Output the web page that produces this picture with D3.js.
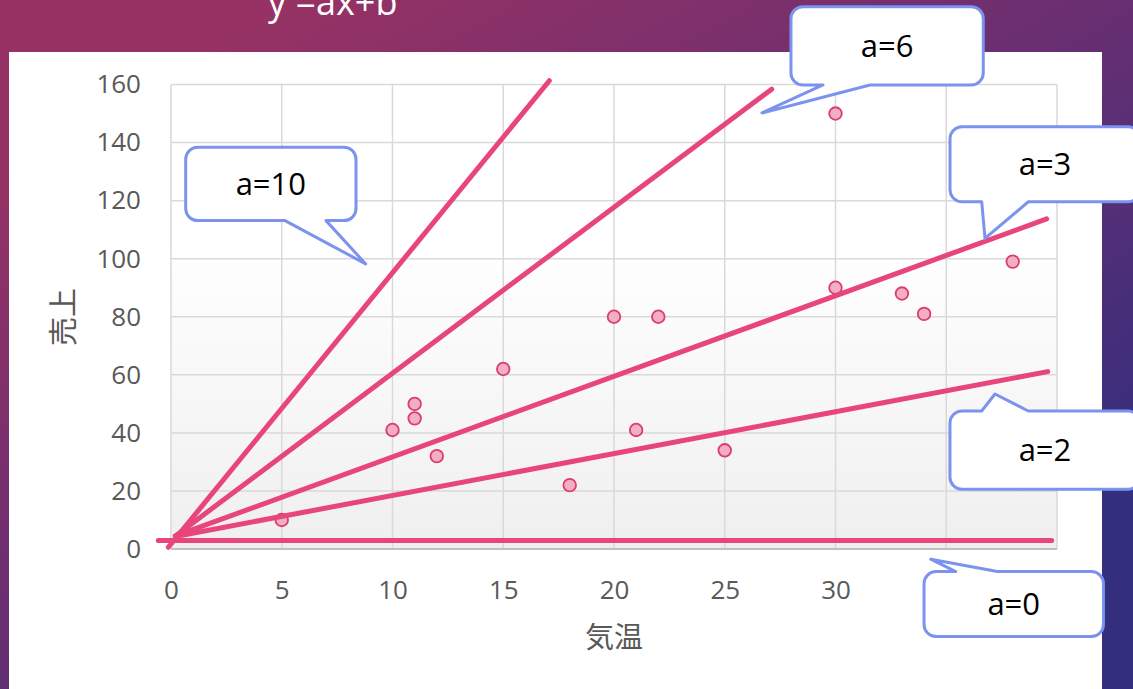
<!DOCTYPE html>
<html>
<head>
<meta charset="utf-8">
<script src="https://cdn.jsdelivr.net/npm/d3@7/dist/d3.min.js"></script>
<style>
  html, body { margin: 0; padding: 0; overflow: hidden; }
  svg { display: block; }
</style>
</head>
<body>
<script>
// Temperature (気温) vs sales (売上) observations
const temps = [5, 10, 11, 11, 12, 15, 18, 20, 21, 22, 25, 30, 30, 33, 34, 38];
const sales = [10, 41, 50, 45, 32, 62, 22, 80, 41, 80, 34, 150, 90, 88, 81, 99];

// Trial lines y = ax + b, given by their start and end points
const lineNames = ["a=10", "a=6", "a=3", "a=2", "a=0"];
const lineX0 = [-0.12, 0.2, 0.2, 0.2, -0.57];
const lineY0 = [0.6, 4.5, 4.5, 4.3, 2.9];
const lineX1 = [17.08, 27.12, 39.53, 39.58, 39.76];
const lineY1 = [161.3, 158.4, 113.7, 61.1, 2.9];

// Where each callout points, in data units
const tipX = [8.79, 26.68, 36.75, 37.2, 34.3];
const tipY = [98.2, 150.2, 107, 53.4, -3.5];

// Axis ticks
const xTicks = [0, 5, 10, 15, 20, 25, 30, 35, 40];
const yTicks = [0, 20, 40, 60, 80, 100, 120, 140, 160];

const W = 1133, H = 689;
const svg = d3.select("body").append("svg").attr("width", W).attr("height", H);
const defs = svg.append("defs");

// slide background
const bg = defs.append("linearGradient").attr("id", "bg")
  .attr("gradientUnits", "userSpaceOnUse")
  .attr("x1", 300).attr("y1", 0).attr("x2", 700).attr("y2", 720);
bg.append("stop").attr("offset", "0%").attr("stop-color", "#963264");
bg.append("stop").attr("offset", "40%").attr("stop-color", "#712f6f");
bg.append("stop").attr("offset", "100%").attr("stop-color", "#342e7e");
svg.append("rect").attr("width", W).attr("height", H).attr("fill", "url(#bg)");

// title
svg.append("text").attr("x", 268).attr("y", 15)
  .attr("font-family", "'Open Sans', sans-serif").attr("font-size", 36)
  .attr("fill", "#ffffff").text("y =ax+b");

// chart card
svg.append("rect").attr("x", 9).attr("y", 52).attr("width", 1093).attr("height", 700)
  .attr("fill", "#ffffff");

const x = d3.scaleLinear().domain([0, 40]).range([171, 1057]);
const y = d3.scaleLinear().domain([0, 160]).range([549, 84.5]);

const pg = defs.append("linearGradient").attr("id", "plotbg")
  .attr("x1", "0").attr("y1", "0").attr("x2", "0").attr("y2", "1");
pg.append("stop").attr("offset", "0%").attr("stop-color", "#ffffff");
pg.append("stop").attr("offset", "35%").attr("stop-color", "#ffffff");
pg.append("stop").attr("offset", "100%").attr("stop-color", "#efefef");
svg.append("rect").attr("x", x(0)).attr("y", y(160))
  .attr("width", x(40) - x(0)).attr("height", y(0) - y(160)).attr("fill", "url(#plotbg)");

// grid
const grid = svg.append("g");
grid.selectAll(".gx").data(xTicks).join("line")
  .attr("x1", d => x(d)).attr("x2", d => x(d)).attr("y1", y(160)).attr("y2", y(0))
  .attr("stroke", "#d9d9d9").attr("stroke-width", 1.5);
grid.selectAll(".gy").data(yTicks).join("line")
  .attr("x1", x(0)).attr("x2", x(40)).attr("y1", d => y(d)).attr("y2", d => y(d))
  .attr("stroke", "#d9d9d9").attr("stroke-width", 1.5);
svg.append("line").attr("x1", x(0)).attr("x2", x(40)).attr("y1", y(0)).attr("y2", y(0))
  .attr("stroke", "#bfbfbf").attr("stroke-width", 2);

// axes
const font = "'Open Sans', sans-serif";
const xAxis = svg.append("g").attr("transform", `translate(0,${y(0)})`)
  .call(d3.axisBottom(x).tickValues(xTicks).tickSize(0).tickPadding(30).tickFormat(d3.format("d")));
const yAxis = svg.append("g").attr("transform", `translate(${x(0)},0)`)
  .call(d3.axisLeft(y).tickValues(yTicks).tickSize(0).tickPadding(30).tickFormat(d3.format("d")));
[xAxis, yAxis].forEach(g => {
  g.select(".domain").remove();
  g.selectAll("text").attr("font-family", font).attr("font-size", 26).attr("fill", "#595959");
});
xAxis.selectAll("text").attr("dy", "0.35em").attr("y", 41);

const cjk = "'Noto Sans CJK JP', sans-serif";
svg.append("text").attr("x", 614).attr("y", 638).attr("dy", "0.35em")
  .attr("text-anchor", "middle").attr("font-family", cjk).attr("font-size", 29)
  .attr("fill", "#595959").text("気温");
svg.append("text").attr("transform", "translate(64,317) rotate(-90)").attr("dy", "0.35em")
  .attr("text-anchor", "middle").attr("font-family", cjk).attr("font-size", 29)
  .attr("fill", "#595959").text("売上");

// observations
svg.append("g").selectAll("circle").data(temps).join("circle")
  .attr("cx", d => x(d)).attr("cy", (d, i) => y(sales[i])).attr("r", 6.3)
  .attr("fill", "#f2afc1").attr("stroke", "#dc3c6f").attr("stroke-width", 1.8);

// trial lines
svg.append("g").selectAll("line").data(lineNames).join("line")
  .attr("x1", (d, i) => x(lineX0[i])).attr("y1", (d, i) => y(lineY0[i]))
  .attr("x2", (d, i) => x(lineX1[i])).attr("y2", (d, i) => y(lineY1[i]))
  .attr("stroke", "#e8457a").attr("stroke-width", 5).attr("stroke-linecap", "round");

// callouts: box offsets relative to the tip, tail on the side facing the tip
const boxes = [
  { x0: -180, x1: -9.7, y0: -116.7, y1: -43.3, side: "bottom", a: -80.7, b: -39.7 },
  { x0: 29, x1: 221.3, y0: -106.3, y1: -28, side: "bottom", a: 61, b: 108 },
  { x0: -35, x1: 155, y0: -111.6, y1: -36.6, side: "bottom", a: -3.3, b: 43.3 },
  { x0: -45, x1: 145, y0: 17, y1: 95.3, side: "top", a: -13.3, b: 33.3 },
  { x0: -6.7, x1: 172.7, y0: 12.4, y1: 77.4, side: "top", a: 25, b: 66.7 }
];

function calloutPath(tx, ty, bx) {
  const r = 12;
  const X0 = tx + bx.x0, X1 = tx + bx.x1, Y0 = ty + bx.y0, Y1 = ty + bx.y1;
  const p = d3.path();
  p.moveTo(X0 + r, Y0);
  if (bx.side === "top") {
    p.lineTo(tx + bx.a, Y0); p.lineTo(tx, ty); p.lineTo(tx + bx.b, Y0);
  }
  p.lineTo(X1 - r, Y0); p.arcTo(X1, Y0, X1, Y0 + r, r);
  p.lineTo(X1, Y1 - r); p.arcTo(X1, Y1, X1 - r, Y1, r);
  if (bx.side === "bottom") {
    p.lineTo(tx + bx.b, Y1); p.lineTo(tx, ty); p.lineTo(tx + bx.a, Y1);
  }
  p.lineTo(X0 + r, Y1); p.arcTo(X0, Y1, X0, Y1 - r, r);
  p.lineTo(X0, Y0 + r); p.arcTo(X0, Y0, X0 + r, Y0, r);
  p.closePath();
  return { d: p.toString(), cx: (X0 + X1) / 2, cy: (Y0 + Y1) / 2 };
}

const callouts = svg.append("g");
lineNames.forEach((name, i) => {
  const c = calloutPath(x(tipX[i]), y(tipY[i]), boxes[i]);
  callouts.append("path").attr("d", c.d).attr("fill", "#ffffff")
    .attr("stroke", "#7b93ee").attr("stroke-width", 3).attr("stroke-linejoin", "round");
  callouts.append("text").attr("x", c.cx).attr("y", c.cy).attr("dy", "0.36em")
    .attr("text-anchor", "middle").attr("font-family", font).attr("font-size", 31)
    .attr("fill", "#000000").text(name);
});
</script>
</body>
</html>
